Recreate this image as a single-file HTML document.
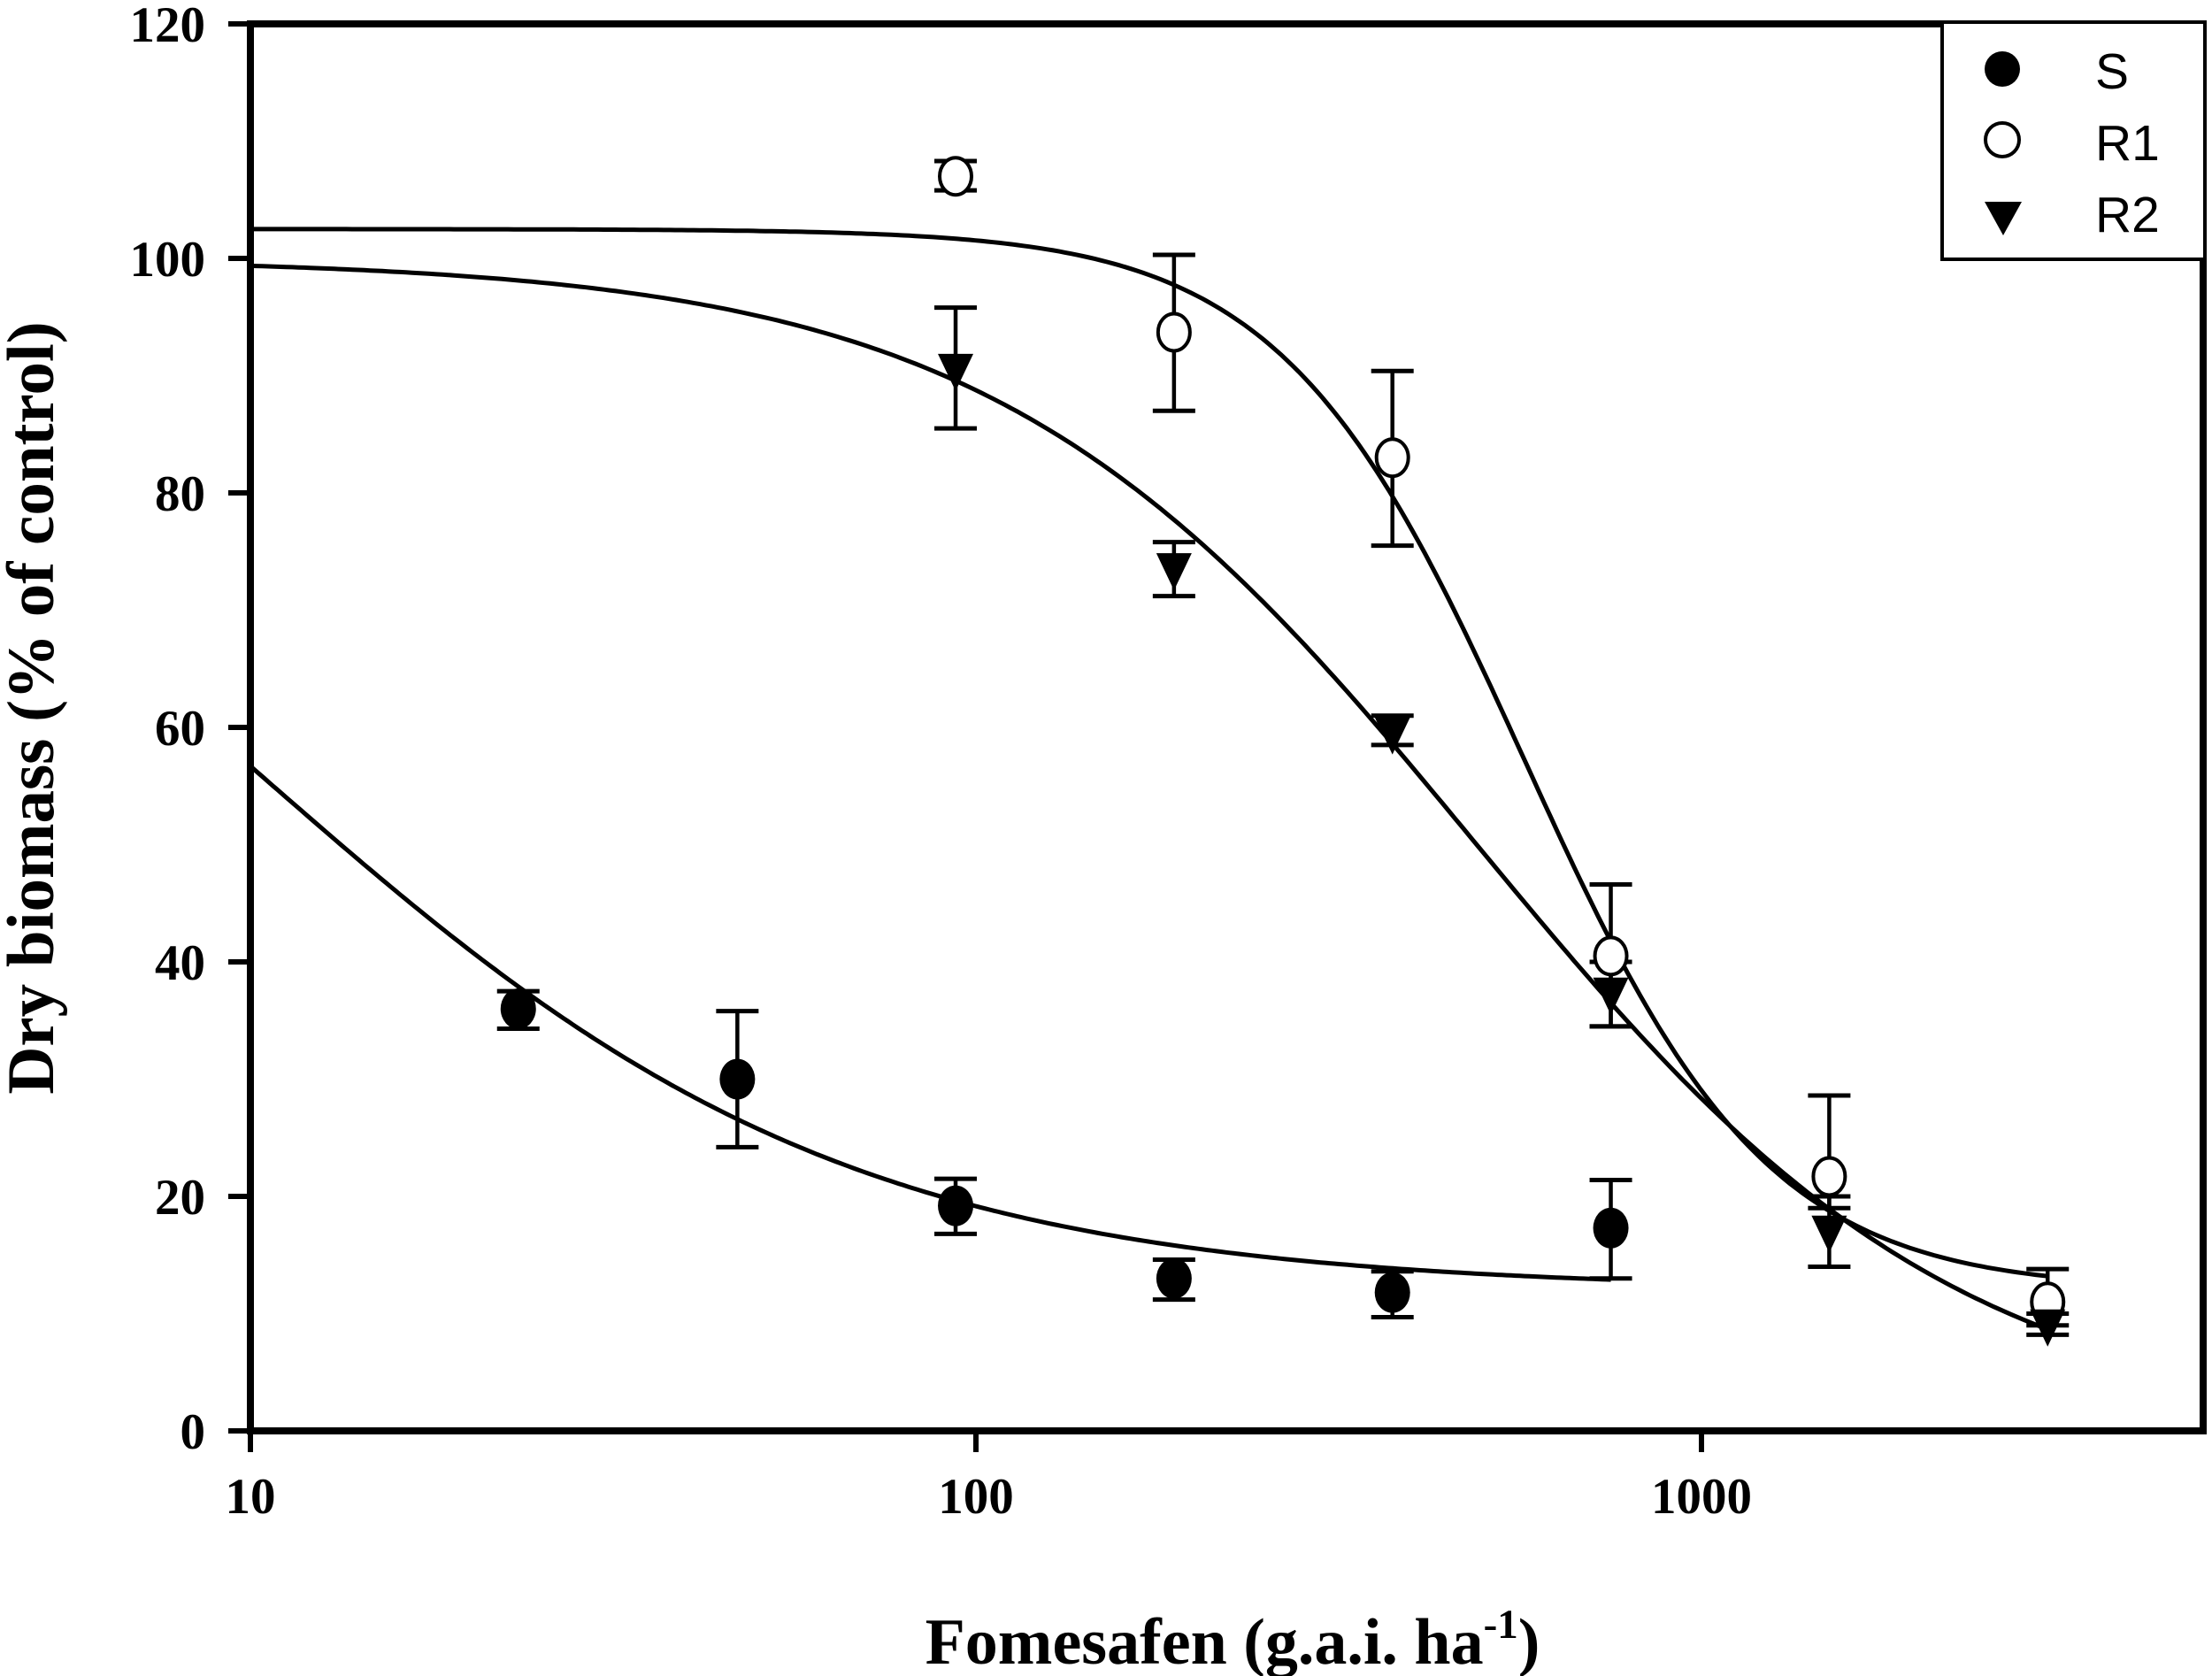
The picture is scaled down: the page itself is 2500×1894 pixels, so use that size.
<!DOCTYPE html>
<html><head><meta charset="utf-8"><style>
html,body{margin:0;padding:0;background:#fff;}
svg{display:block;}
.t{font-family:"Liberation Serif",serif;font-weight:bold;fill:#000;}
.l{font-family:"Liberation Sans",sans-serif;fill:#000;}
</style></head><body>
<svg id="s" width="2500" height="1894" viewBox="0 0 2500 1894" xmlns="http://www.w3.org/2000/svg">
<rect width="2500" height="1894" fill="#fff"/>
<g id="data" stroke="#000" fill="none"></g>
<rect x="283" y="27" width="2207" height="1590" fill="none" stroke="#000" stroke-width="8"/>
<g stroke="#000" stroke-width="6">
<line x1="258" y1="27" x2="283" y2="27"/><line x1="258" y1="292" x2="283" y2="292"/>
<line x1="258" y1="557" x2="283" y2="557"/><line x1="258" y1="822" x2="283" y2="822"/>
<line x1="258" y1="1087" x2="283" y2="1087"/><line x1="258" y1="1352" x2="283" y2="1352"/>
<line x1="258" y1="1617" x2="283" y2="1617"/>
<line x1="283" y1="1617" x2="283" y2="1641"/><line x1="1103" y1="1617" x2="1103" y2="1641"/>
<line x1="1923" y1="1617" x2="1923" y2="1641"/>
</g>
<g class="t" font-size="57" text-anchor="end">
<text x="232" y="47">120</text><text x="232" y="312">100</text><text x="232" y="577">80</text>
<text x="232" y="842">60</text><text x="232" y="1107">40</text><text x="232" y="1372">20</text>
<text x="232" y="1637">0</text>
</g>
<g class="t" font-size="57" text-anchor="middle">
<text x="283" y="1710">10</text><text x="1103" y="1710">100</text><text x="1923" y="1710">1000</text>
</g>
<text class="t" font-size="74" text-anchor="middle" x="1393" y="1880">Fomesafen (g.a.i. ha<tspan font-size="47" dy="-29">-1</tspan><tspan dy="29">)</tspan></text>
<text class="t" font-size="75" text-anchor="middle" transform="translate(60,800) rotate(-90)">Dry biomass (% of control)</text>
<rect x="2195" y="25" width="297" height="268" fill="#fff" stroke="#000" stroke-width="4"/>
<ellipse cx="2263" cy="78" rx="20" ry="20" fill="#000"/>
<ellipse cx="2263" cy="158" rx="19" ry="19" fill="#fff" stroke="#000" stroke-width="4"/>
<polygon points="2243,228 2285,228 2264,266" fill="#000"/>
<g class="l" font-size="57"><text x="2368" y="100">S</text><text x="2368" y="181">R1</text><text x="2368" y="262">R2</text></g>
</svg>
<script>
var X=function(v){return 283+820*Math.log10(v/10);}, Y=function(v){return 1617-13.25*v;};
var g=document.getElementById('data'), NS="http://www.w3.org/2000/svg";
function el(n,a){var e=document.createElementNS(NS,n);for(var k in a)e.setAttribute(k,a[k]);g.appendChild(e);return e;}
function curve(f,x0,x1){var d="";for(var i=0;i<=300;i++){var lv=Math.log10(x0)+(Math.log10(x1)-Math.log10(x0))*i/300;var v=Math.pow(10,lv);d+=(i?"L":"M")+X(v).toFixed(1)+","+Y(f(v)).toFixed(1);}el('path',{d:d,'stroke-width':5,fill:'none'});}
curve(function(x){return 12+88/(1+Math.pow(x/10.3,1.066));},10,750);
curve(function(x){return 12+90.5/(1+Math.pow(x/570,2.6));},10,3000);
curve(function(x){return 100/(1+Math.pow(x/490,1.3));},10,3000);
function eb(x,lo,hi){var cx=X(x);el('line',{x1:cx,y1:Y(lo),x2:cx,y2:Y(hi),'stroke-width':4.5});
[lo,hi].forEach(function(v){el('line',{x1:cx-24,y1:Y(v),x2:cx+24,y2:Y(v),'stroke-width':5});});}
var S=[[23.4,36,34.3,37.5],[46.9,30,24.2,35.8],[93.75,19.2,16.8,21.5],[187.5,13,11.2,14.6],[375,11.8,9.7,13.6],[750,17.3,13,21.4]];
var R1=[[93.75,107,105.8,108.3],[187.5,93.7,87,100.3],[375,83,75.5,90.4],[750,40.5,34.5,46.6],[1500,21.7,19,28.6],[3000,11,9,13.8]];
var R2=[[93.75,90.5,85.5,95.8],[187.5,73.5,71.2,75.8],[375,59.5,58.5,61],[750,37.3,34.5,40],[1500,17,14,20],[3000,9,8.2,10]];
S.concat(R1,R2).forEach(function(p){eb(p[0],p[2],p[3]);});
S.forEach(function(p){el('ellipse',{cx:X(p[0]),cy:Y(p[1]),rx:20,ry:23,fill:'#000',stroke:'none'});});
R1.forEach(function(p){el('ellipse',{cx:X(p[0]),cy:Y(p[1]),rx:18,ry:21,fill:'#fff','stroke-width':4});});
R2.forEach(function(p){var cx=X(p[0]),cy=Y(p[1]);el('polygon',{points:(cx-20)+","+(cy-18)+" "+(cx+20)+","+(cy-18)+" "+cx+","+(cy+24),fill:'#000',stroke:'none'});});
</script>
</body></html>
